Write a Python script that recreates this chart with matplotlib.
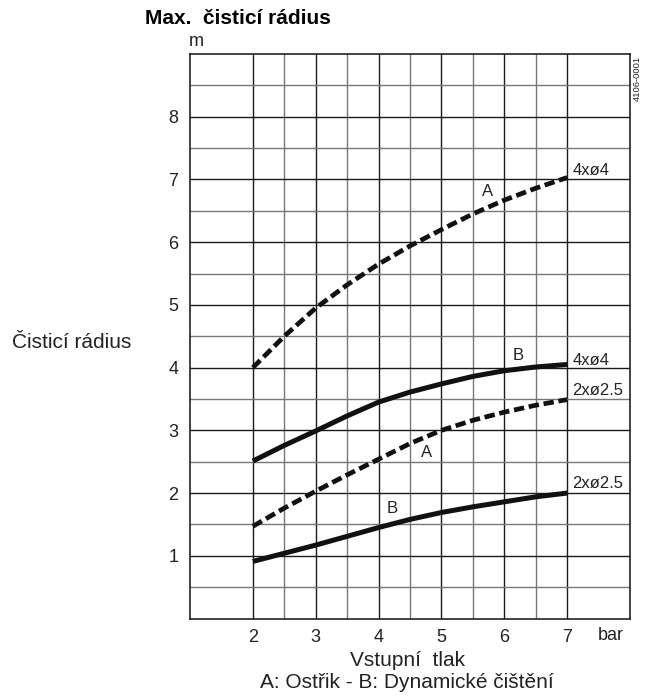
import matplotlib
matplotlib.use('Agg')
import numpy as np
import matplotlib.pyplot as plt

plt.rcParams['font.family'] = ['Liberation Sans', 'DejaVu Sans']

# pressure (bar)
pressure = [2.0, 2.5, 3.0, 3.5, 4.0, 4.5, 5.0, 5.5, 6.0, 6.5, 7.0]
# cleaning radius (m)
a_4x4 = [4.0, 4.5, 4.95, 5.32, 5.65, 5.94, 6.2, 6.45, 6.67, 6.86, 7.03]
b_4x4 = [2.51, 2.76, 2.99, 3.23, 3.45, 3.61, 3.74, 3.86, 3.95, 4.01, 4.05]
a_2x25 = [1.47, 1.76, 2.03, 2.29, 2.54, 2.79, 3.0, 3.16, 3.29, 3.40, 3.49]
b_2x25 = [0.91, 1.04, 1.17, 1.31, 1.45, 1.58, 1.69, 1.78, 1.86, 1.94, 2.0]

x_ticks = [2, 3, 4, 5, 6, 7]
y_ticks = [1, 2, 3, 4, 5, 6, 7, 8]

fig = plt.figure(figsize=(6.6, 6.99), dpi=100)
ax = fig.add_axes([190 / 660, 80.5 / 699, 440 / 660, 564.5 / 699])

ax.set_xlim(1, 8)
ax.set_ylim(0, 9)

# grid: integer lines dark, half lines grey
for xv in np.arange(2, 7.01, 0.5):
    c = '#1a1a1a' if xv == int(xv) else '#777777'
    ax.axvline(xv, color=c, lw=1.0, zorder=1)
for yv in np.arange(0.5, 8.51, 0.5):
    c = '#1a1a1a' if yv == int(yv) else '#777777'
    ax.axhline(yv, color=c, lw=1.0, zorder=1)
for s in ax.spines.values():
    s.set_color('#222222')
    s.set_linewidth(1.2)

dash = (2.2, 1.0)
ax.plot(pressure, a_4x4, color='#111111', lw=3.4, dashes=dash, zorder=3)
ax.plot(pressure, b_4x4, color='#111111', lw=3.6, solid_capstyle='butt', zorder=3)
ax.plot(pressure, a_2x25, color='#111111', lw=3.4, dashes=dash, zorder=3)
ax.plot(pressure, b_2x25, color='#111111', lw=3.6, solid_capstyle='butt', zorder=3)

# curve letters
fs = 12
ax.text(5.74, 6.80, 'A', fontsize=fs, ha='center', va='center', color='#222222', zorder=4)
ax.text(6.22, 4.20, 'B', fontsize=fs, ha='center', va='center', color='#222222', zorder=4)
ax.text(4.77, 2.65, 'A', fontsize=fs, ha='center', va='center', color='#222222', zorder=4)
ax.text(4.21, 1.76, 'B', fontsize=fs, ha='center', va='center', color='#222222', zorder=4)

# right-hand nozzle labels
ax.text(7.08, 7.15, '4xø4', fontsize=fs, ha='left', va='center', color='#222222')
ax.text(7.08, 4.12, '4xø4', fontsize=fs, ha='left', va='center', color='#222222')
ax.text(7.08, 3.64, '2xø2.5', fontsize=fs, ha='left', va='center', color='#222222')
ax.text(7.08, 2.16, '2xø2.5', fontsize=fs, ha='left', va='center', color='#222222')

ax.set_xticks(x_ticks)
ax.set_yticks(y_ticks)
ax.tick_params(length=0, labelsize=13, labelcolor='#222222')
ax.tick_params(axis='y', pad=8.5)
ax.tick_params(axis='x', pad=7.5)

fig.text(611 / 660, 1 - 635 / 699, 'bar', fontsize=13, ha='center', va='center', color='#222222')
fig.text(196 / 660, 1 - 42 / 699, 'm', fontsize=13, ha='center', va='center', color='#222222')
fig.text(145 / 660, 1 - 18 / 699, 'Max.  čisticí rádius', fontsize=15, fontweight='bold',
         ha='left', va='center')
fig.text(12 / 660, 1 - 342 / 699, 'Čisticí rádius', fontsize=15, ha='left', va='center',
         color='#222222')
fig.text(637 / 660, 1 - 78 / 699, '4106-0001', fontsize=6.8, rotation=90, ha='center',
         va='center', color='#222222')
fig.text(408 / 660, 1 - 660 / 699, 'Vstupní  tlak', fontsize=15, ha='center', va='center',
         color='#222222')
fig.text(407 / 660, 1 - 682 / 699, 'A: Ostřik - B: Dynamické čištění', fontsize=15,
         ha='center', va='center', color='#222222')

fig.savefig('out.png', dpi=100)
